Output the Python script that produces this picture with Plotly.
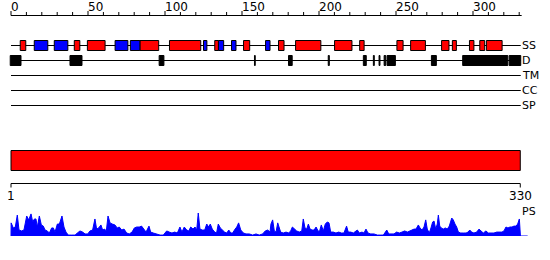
import plotly.graph_objects as go

# ---------------- data (positions along the 330-residue sequence) ----------------
seq_length = 330
ruler_major = [0, 50, 100, 150, 200, 250, 300]
ruler_minor = [0, 10, 20, 30, 40, 50, 60, 70, 80, 90, 100, 110, 120, 130, 140, 150,
               160, 170, 180, 190, 200, 210, 220, 230, 240, 250, 260, 270, 280, 290,
               300, 310, 320, 330]
bottom_ticks = [1, 330]
track_names = ["SS", "D", "TM", "CC", "SP"]

helix_start = [6.0, 41.1, 49.6, 83.7, 102.9, 132.3, 151.0, 173.7, 184.8, 210.1, 226.4,
               250.6, 259.5, 279.6, 286.6, 297.7, 304.4, 308.7]
helix_end = [9.6, 44.7, 61.1, 95.9, 123.2, 134.7, 155.0, 177.3, 201.2, 221.4, 229.3,
             254.6, 269.1, 284.4, 289.2, 300.6, 307.6, 318.9]
strand_start = [15.1, 28.1, 67.6, 77.5, 125.0, 134.7, 143.2, 165.3]
strand_end = [23.9, 36.9, 75.9, 83.7, 127.2, 138.1, 146.1, 168.2]

disorder_start = [-0.5, 38.3, 96.2, 158.1, 180.2, 206.0, 228.8, 235.3, 239.0, 242.3,
                  244.2, 273.0, 293.3, 323.5]
disorder_end = [6.5, 46.1, 99.3, 158.6, 182.6, 206.7, 230.7, 235.9, 239.6, 243.3,
                249.6, 276.2, 322.6, 331.0]

domain_start = [1]
domain_end = [330]

ps_pos = [0, 0.1, 1.5, 2.8, 4.1, 5.2, 6.9, 8.4, 10.2, 11.5, 13.0, 14.1, 15.2, 16.2, 17.1,
          18.4, 19.7, 21.0, 22.1, 23.6, 24.9, 26.4, 27.5, 28.6, 30.1, 31.4, 33.1, 34.4,
          35.7, 37.2, 39.4, 41.6, 43.1, 44.8, 46.5, 48.1, 49.8, 51.3, 53.0, 54.5, 55.6,
          56.9, 58.4, 59.5, 60.8, 61.9, 63.0, 64.3, 65.8, 67.5, 69.0, 70.3, 71.9, 73.4,
          75.1, 76.8, 78.6, 80.1, 81.6, 83.3, 84.8, 86.4, 87.7, 89.6, 90.7, 92.4, 94.6,
          96.8, 98.9, 101.1, 102.8, 104.5, 106.3, 108.0, 109.7, 111.0, 112.5, 114.1,
          115.4, 116.7, 118.2, 119.5, 120.6, 121.6, 122.7, 124.2, 125.8, 127.1, 128.4,
          129.4, 130.7, 132.3, 133.5, 134.6, 135.9, 137.2, 138.7, 140.1, 141.4, 142.7,
          143.9, 145.5, 146.6, 147.8, 149.2, 150.9, 152.6, 154.8, 156.9, 159.1, 161.2,
          163.4, 165.1, 166.7, 168.2, 168.8, 169.9, 171.0, 172.1, 173.2, 174.0, 175.1,
          176.8, 178.6, 180.3, 181.6, 182.7, 184.0, 185.5, 187.2, 188.8, 189.8, 190.9,
          192.0, 193.1, 194.2, 195.5, 196.8, 198.1, 199.1, 200.2, 201.5, 202.8, 204.1,
          205.4, 206.5, 207.6, 209.3, 211.0, 212.8, 214.5, 216.2, 217.9, 219.0, 220.6,
          222.3, 223.8, 224.9, 226.2, 227.9, 229.2, 230.5, 231.8, 233.6, 235.7, 237.9,
          240.1, 241.8, 243.1, 244.0, 245.3, 247.0, 248.7, 250.4, 252.2, 253.9, 255.6,
          257.4, 259.1, 260.4, 261.7, 263.0, 264.5, 265.6, 266.9, 268.2, 269.3, 270.3,
          271.6, 272.7, 273.8, 274.7, 275.8, 276.8, 277.5, 278.4, 279.4, 280.7, 282.0,
          283.3, 284.6, 286.2, 287.2, 288.3, 289.4, 290.5, 292.0, 293.7, 295.5, 296.8,
          297.9, 299.1, 300.6, 302.4, 303.9, 305.2, 306.7, 308.4, 309.9, 311.7, 313.6,
          315.4, 317.1, 318.8, 320.1, 321.4, 322.7, 324.0, 325.3, 326.6, 327.9, 329.0,
          330.1, 330.8, 335.5]
ps_val = [0, 0.57, 0.35, 0.39, 0.91, 0.26, 0.22, 0.26, 0.87, 0.70, 0.96, 0.61, 0.74, 0.74,
          0.39, 0.87, 0.48, 0.43, 0.26, 0.22, 0.13, 0.35, 0.35, 0.17, 0.52, 0.52, 0.87,
          0.39, 0.17, 0.04, 0.04, 0.04, 0.13, 0.22, 0.17, 0.09, 0.09, 0.22, 0.26, 0.74,
          0.30, 0.35, 0.48, 0.26, 0.30, 0.22, 0.87, 0.57, 0.52, 0.48, 0.35, 0.39, 0.26,
          0.30, 0.13, 0.09, 0.17, 0.35, 0.39, 0.39, 0.43, 0.30, 0.17, 0.43, 0.17, 0.13,
          0.09, 0.04, 0.04, 0.22, 0.17, 0.13, 0.17, 0.13, 0.39, 0.17, 0.39, 0.26, 0.22,
          0.39, 0.30, 0.39, 0.26, 1.00, 0.30, 0.26, 0.26, 0.52, 0.39, 0.52, 0.30, 0.17,
          0.13, 0.52, 0.35, 0.26, 0.17, 0.13, 0.26, 0.13, 0.13, 0.30, 0.39, 0.57, 0.26,
          0.13, 0.09, 0.09, 0.04, 0.09, 0.04, 0.09, 0.22, 0.26, 0.17, 0.52, 0.70, 0.22,
          0.17, 0.57, 0.35, 0.17, 0.13, 0.17, 0.13, 0.22, 0.39, 0.30, 0.22, 0.17, 0.22,
          0.74, 0.35, 0.30, 0.52, 0.30, 0.26, 0.26, 0.39, 0.26, 0.17, 0.48, 0.22, 0.52,
          0.61, 0.57, 0.17, 0.17, 0.13, 0.17, 0.13, 0.13, 0.43, 0.17, 0.17, 0.13, 0.22,
          0.26, 0.13, 0.17, 0.13, 0.30, 0.13, 0.09, 0.09, 0.04, 0.04, 0.04, 0.17, 0.26,
          0.09, 0.09, 0.09, 0.17, 0.13, 0.17, 0.22, 0.17, 0.22, 0.26, 0.30, 0.30, 0.48,
          0.35, 0.26, 0.39, 0.70, 0.30, 0.13, 0.35, 0.61, 0.65, 0.30, 0.52, 0.91, 0.43,
          0.35, 0.30, 0.35, 0.30, 0.43, 0.78, 0.70, 0.52, 0.39, 0.17, 0.13, 0.13, 0.13,
          0.17, 0.26, 0.17, 0.13, 0.17, 0.30, 0.22, 0.13, 0.22, 0.13, 0.13, 0.13, 0.17,
          0.17, 0.17, 0.22, 0.39, 0.35, 0.39, 0.39, 0.43, 0.43, 0.52, 0.74, 0, 0]

# ---------------- layout constants (pixels of the 550x260 canvas) ----------------
W, H = 550, 260
X0_PX, PX_PER_RES = 11, 1.54
FONT = "DejaVu Sans"
RED, BLUE, BLACK = "#ff0000", "#0000ff", "#000000"
track_y = [45.5, 60.5, 75.5, 90.5, 105.5]
track_end = 331.0
ruler_y = 15.5
half_box = 5
REF = dict(xref="x", yref="y")

fig = go.Figure()

# invisible anchor trace so the pixel-based y axis exists
fig.add_trace(go.Scatter(x=[0], y=[0], mode="markers", marker=dict(opacity=0),
                         xaxis="x", yaxis="y", hoverinfo="skip"))
# PS profile on its own y axis
fig.add_trace(go.Scatter(x=ps_pos, y=ps_val, mode="lines", fill="tozeroy",
                         line=dict(color=BLUE, width=1), fillcolor=BLUE,
                         xaxis="x", yaxis="y2", hoverinfo="skip"))

shapes = []
ann = []

def line(x0, x1, y0, y1):
    shapes.append(dict(type="line", x0=x0, x1=x1, y0=y0, y1=y1,
                       line=dict(color=BLACK, width=1), **REF))

def rect(x0, x1, y0, y1, fill):
    shapes.append(dict(type="rect", x0=x0, x1=x1, y0=y0, y1=y1, fillcolor=fill,
                       line=dict(color=BLACK, width=1), **REF))

def text(x, y, s, anchor, size, xshift=0):
    ann.append(dict(x=x, y=y, text=s, xanchor=anchor, yanchor="middle", showarrow=False,
                    xshift=xshift, font=dict(family=FONT, size=size, color=BLACK), **REF))

# top ruler
line(0, 331.6, ruler_y, ruler_y)
for t in ruler_minor:
    line(t, t, ruler_y, ruler_y - (4.5 if t in ruler_major else 3.5))
for t in ruler_major:
    text(t, 6.5, str(t), "left", 12, xshift=-2)

# tracks
for name, y in zip(track_names, track_y):
    line(0, track_end, y, y)
    text(track_end, y, name, "left", 11, xshift=-1)

for s, e in zip(helix_start, helix_end):
    rect(s, e, track_y[0] - half_box, track_y[0] + half_box, RED)
for s, e in zip(strand_start, strand_end):
    rect(s, e, track_y[0] - half_box, track_y[0] + half_box, BLUE)
for s, e in zip(disorder_start, disorder_end):
    rect(s, e, track_y[1] - half_box, track_y[1] + half_box, BLACK)

# domain bar
for s, e in zip(domain_start, domain_end):
    rect(s - 1, e + 0.7, 150.5, 170.5, RED)

# bottom ruler
line(bottom_ticks[0] - 1, bottom_ticks[-1] + 0.7, 183.5, 183.5)
for i, t in enumerate(bottom_ticks):
    xx = t - 1 if i == 0 else t + 0.7
    line(xx, xx, 183.5, 187.5)
    text(xx, 196, str(t), "center", 12)

text(track_end, 211, "PS", "left", 11, xshift=-1)

# axis ranges: x in residues, y in canvas pixels (top = 0)
xr = [-X0_PX / PX_PER_RES, (W - X0_PX) / PX_PER_RES]
fig.update_layout(
    width=W, height=H, margin=dict(l=0, r=0, t=0, b=0, pad=0),
    paper_bgcolor="white", plot_bgcolor="white", showlegend=False,
    xaxis=dict(range=xr, visible=False, domain=[0, 1], fixedrange=True),
    yaxis=dict(range=[H, 0], visible=False, domain=[0, 1], fixedrange=True),
    yaxis2=dict(range=[0, 1], visible=False, domain=[(H - 236) / H, (H - 213) / H],
                anchor="x", fixedrange=True),
    shapes=shapes, annotations=ann,
)

fig.write_html("out.html", config={"displayModeBar": False})
